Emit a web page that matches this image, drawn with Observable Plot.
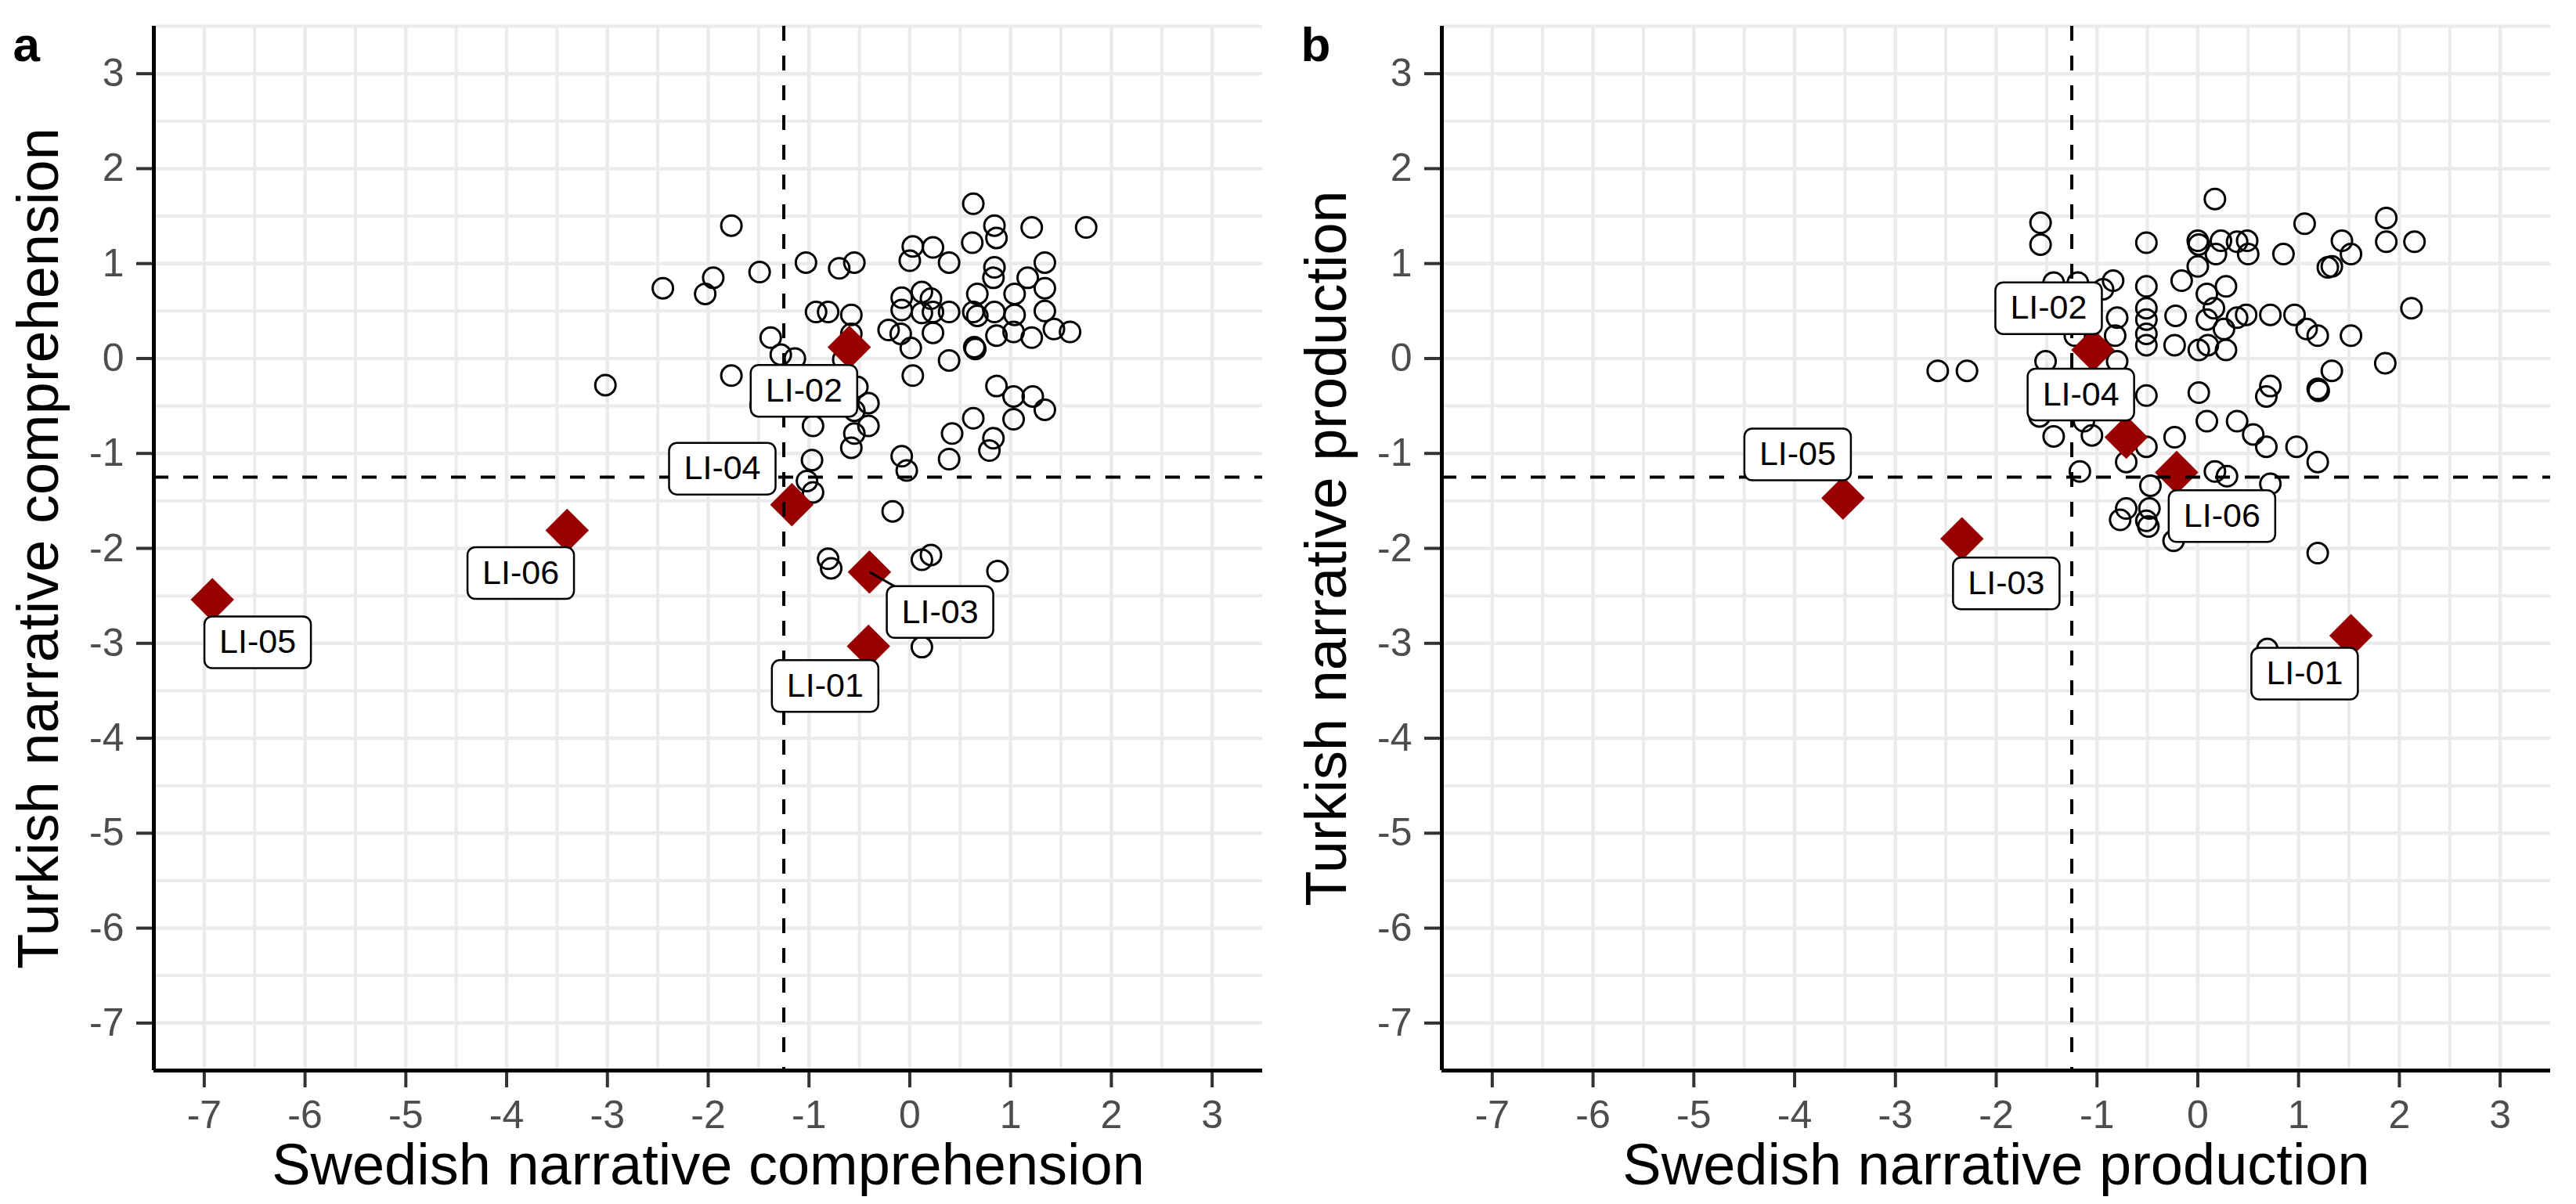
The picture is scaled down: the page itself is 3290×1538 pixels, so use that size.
<!DOCTYPE html>
<html>
<head>
<meta charset="utf-8">
<script src="https://cdn.jsdelivr.net/npm/d3@7"></script>
<script src="https://cdn.jsdelivr.net/npm/@observablehq/plot@0.6"></script>
<style>
html, body { margin: 0; padding: 0; background: #fff; }
#wrap { display: flex; width: 3290px; height: 1538px; }
</style>
</head>
<body>
<div id="wrap"></div>
<script>
const FONT = '"Liberation Sans", Arial, Helvetica, sans-serif';

// ---- scales / ticks ----
const xDomain = [-7.5, 3.5];
const yDomain = [-7.5, 3.5];
const majorTicks = [-7, -6, -5, -4, -3, -2, -1, 0, 1, 2, 3];
const minorTicksX = [-6.5, -5.5, -4.5, -3.5, -2.5, -1.5, -0.5, 0.5, 1.5, 2.5];
const minorTicksY = [-6.5, -5.5, -4.5, -3.5, -2.5, -1.5, -0.5, 0.5, 1.5, 2.5, 3.5];
const cutoff = -1.25;

// ---- panel a: comprehension (typical children) ----
const compSwedish = [0.63, -1.77, 0.84, 1.21, 1.75, 0.86, 0.62, 0.03, 0.23, 0.00,
  0.39, -1.03, -0.70, -0.55, 1.34, 0.84, 0.83, 1.17, 1.34, -1.49,
  -1.95, -2.45, -2.03, 0.67, 1.04, 0.12, -0.08, 0.21, -0.08, 0.12,
  0.23, 0.39, 0.63, 0.67, 0.84, 1.04, 1.34, -0.93, -0.81, -0.58,
  -0.21, -0.09, 0.23, 0.86, 1.03, 1.21, 1.43, 1.59, 0.01, 0.64,
  0.65, 0.39, -1.38, -1.28, -1.14, -0.58, -0.66, -1.77, 0.03, -3.02,
  0.86, 1.03, 1.22, 1.34, 0.63, 1.03, 0.42, 0.83, 0.79, 0.39,
  -0.08, -0.03, -0.41, -0.52, -0.55, -0.41, -0.55, -0.58, -0.96, -1.48,
  -0.97, -1.02, -0.96, -0.17, -0.81, -0.78, 0.12, 0.21, 0.87, 0.12];
const compTurkish = [1.63, 1.40, 1.40, 1.38, 1.38, 1.27, 1.22, 1.18, 1.17, 1.03,
  1.01, 1.01, 0.95, 1.01, 1.01, 0.96, 0.85, 0.85, 0.74, 0.91,
  0.85, 0.74, 0.68, 0.68, 0.68, 0.70, 0.64, 0.63, 0.51, 0.48,
  0.49, 0.49, 0.49, 0.45, 0.49, 0.46, 0.50, 0.49, 0.49, 0.46,
  0.30, 0.26, 0.27, 0.24, 0.28, 0.22, 0.31, 0.28, 0.11, 0.12,
  0.10, -0.02, 0.22, 0.04, 0.00, 0.26, -0.01, -0.18, -0.18, -0.28,
  -0.29, -0.40, -0.40, -0.54, -0.63, -0.64, -0.79, -0.84, -0.97, -1.06,
  -1.03, -1.18, -0.47, -0.30, -0.55, -0.71, -0.79, -0.94, -0.71, -0.49,
  -1.07, -1.29, -1.41, -1.61, -2.11, -2.21, -2.12, -2.07, -2.24, -3.04];

// ---- panel b: production (typical children) ----
const prodSwedish = [0.17, 1.87, 1.06, -1.56, -1.56, -0.51, 0.00, 0.01, 0.23, 0.39,
  0.49, 1.43, 1.87, 2.15, 0.18, 0.50, 0.85, 1.52, 1.29, 1.33,
  0.00, -0.84, -0.51, -0.16, 0.09, 0.28, -0.94, -0.51, -0.51, -0.51,
  -0.51, -0.22, -0.23, 0.09, 0.16, 0.39, 0.48, 0.26, 0.72, 0.96,
  1.08, 1.19, 1.52, 2.12, -0.80, -0.82, 0.01, 0.10, 0.28, 1.86,
  1.33, 1.19, 1.20, 0.72, 0.68, 0.01, -0.51, -2.58, -2.29, -1.51,
  -0.80, 0.09, 0.39, 0.55, 0.68, 0.98, 1.19, -0.23, -1.43, -1.05,
  -1.13, -1.57, -0.51, -0.71, -1.17, 0.17, 0.29, 0.72, -0.47, -0.71,
  -0.77, -0.48, -0.51, -0.49, -0.24, 1.19, 0.69, -1.43, -1.19, -1.22];
const prodTurkish = [1.68, 1.48, 1.42, 1.43, 1.20, 1.22, 1.24, 1.20, 1.24, 1.23,
  1.24, 1.24, 1.23, 1.23, 1.10, 1.10, 1.10, 1.10, 0.96, 0.97,
  0.97, 0.82, 0.76, 0.82, 0.68, 0.76, 0.73, 0.53, 0.41, 0.26,
  0.14, 0.45, 0.14, 0.41, 0.53, 0.43, 0.46, 0.31, 0.46, 0.46,
  0.31, 0.24, 0.24, 0.53, 0.43, 0.24, 0.09, 0.14, 0.09, -0.05,
  -0.13, -0.32, -0.34, -0.29, -0.40, -0.36, -0.39, -0.13, -0.13, -0.03,
  -0.03, -0.66, -0.66, -0.80, -0.93, -0.93, -1.09, -0.83, -0.82, -0.81,
  -0.66, -0.61, -0.93, -1.09, -1.19, -1.19, -1.24, -1.32, -1.34, -1.58,
  -1.70, -1.58, -1.71, -1.77, -1.92, -2.05, -3.06, 0.80, 0.80, 0.24];

// ---- children with language impairment (highlighted) ----
const caseIds = ["LI-01", "LI-02", "LI-03", "LI-04", "LI-05", "LI-06"];
const caseCompSwedish = [-0.41, -0.60, -0.40, -1.17, -6.92, -3.40];
const caseCompTurkish = [-3.03, 0.12, -2.25, -1.54, -2.54, -1.81];
const caseProdSwedish = [1.52, -1.04, -2.34, -0.71, -3.52, -0.21];
const caseProdTurkish = [-2.92, 0.09, -1.90, -0.83, -1.47, -1.20];
// label (repelled) positions, in data units
const labelCompX = [-0.84, -1.05, 0.30, -1.86, -6.47, -3.86];
const labelCompY = [-3.45, -0.34, -2.67, -1.16, -2.99, -2.26];
const labelProdX = [1.06, -1.48, -1.90, -1.16, -3.97, 0.24];
const labelProdY = [-3.32, 0.53, -2.37, -0.38, -1.01, -1.66];
const segmentComp = [false, false, true, false, false, false];
const segmentProd = [false, false, false, false, false, false];

// rounded label box symbol (pixel-sized)
const labelBox = {
  draw(ctx) {
    const w = 68, h = 33, r = 10;
    ctx.moveTo(-w + r, -h);
    ctx.lineTo(w - r, -h);
    ctx.arcTo(w, -h, w, -h + r, r);
    ctx.lineTo(w, h - r);
    ctx.arcTo(w, h, w - r, h, r);
    ctx.lineTo(-w + r, h);
    ctx.arcTo(-w, h, -w, h - r, r);
    ctx.lineTo(-w, -h + r);
    ctx.arcTo(-w, -h, -w + r, -h, r);
    ctx.closePath();
  }
};

function panel({letter, xTitle, yTitle, xs, ys, cx, cy, lx, ly, seg}) {
  const points = xs.map((x, i) => ({x, y: ys[i]}));
  const cases = caseIds.map((id, i) => ({id, x: cx[i], y: cy[i], lx: lx[i], ly: ly[i], seg: seg[i]}));
  const axisOpts = {ticks: majorTicks, tickSize: 22, tickPadding: 16, fontSize: 50,
    stroke: "#333333", strokeWidth: 4, fill: "#4d4d4d", label: null, tickFormat: d => String(d)};
  return Plot.plot({
    width: 1645, height: 1538,
    marginLeft: 196, marginRight: 33, marginTop: 33, marginBottom: 171,
    style: {fontFamily: FONT, background: "white", overflow: "visible"},
    x: {domain: xDomain},
    y: {domain: yDomain},
    marks: [
      Plot.ruleX(minorTicksX, {stroke: "#ebebeb", strokeWidth: 4}),
      Plot.ruleY(minorTicksY, {stroke: "#ebebeb", strokeWidth: 4}),
      Plot.ruleX(majorTicks, {stroke: "#ebebeb", strokeWidth: 4.5}),
      Plot.ruleY(majorTicks, {stroke: "#ebebeb", strokeWidth: 4.5}),
      Plot.axisX(axisOpts),
      Plot.axisY(axisOpts),
      Plot.dot(points, {x: "x", y: "y", r: 13, stroke: "black", strokeWidth: 3, fill: "none"}),
      Plot.dot(cases, {x: "x", y: "y", symbol: "diamond2", r: 25, fill: "#990000", stroke: "none"}),
      Plot.ruleX([cutoff], {stroke: "black", strokeWidth: 4, strokeDasharray: "19,19"}),
      Plot.ruleY([cutoff], {stroke: "black", strokeWidth: 4, strokeDasharray: "19,19"}),
      Plot.ruleX([xDomain[0]], {stroke: "black", strokeWidth: 5}),
      Plot.ruleY([yDomain[0]], {stroke: "black", strokeWidth: 5}),
      Plot.link(cases.filter(d => d.seg), {x1: "x", y1: "y", x2: "lx", y2: "ly", stroke: "black", strokeWidth: 3}),
      Plot.dot(cases, {x: "lx", y: "ly", symbol: labelBox, r: 10, fill: "white", stroke: "black", strokeWidth: 2.5}),
      Plot.text(cases, {x: "lx", y: "ly", text: "id", fontSize: 43, fill: "black"}),
      Plot.text([yTitle], {text: d => d, frameAnchor: "left", textAnchor: "middle", rotate: -90, dx: -123, lineAnchor: "bottom", fontSize: 74, fill: "black"}),
      Plot.text([xTitle], {text: d => d, frameAnchor: "bottom", textAnchor: "middle", dy: 145, lineAnchor: "bottom", fontSize: 74, fill: "black"}),
      Plot.text([letter], {text: d => d, frameAnchor: "top-left", dx: -180, dy: 44, lineAnchor: "bottom", textAnchor: "start", fontSize: 62, fontWeight: "bold", fill: "black"})
    ]
  });
}

const wrap = document.getElementById("wrap");
wrap.appendChild(panel({
  letter: "a",
  xTitle: "Swedish narrative comprehension",
  yTitle: "Turkish narrative comprehension",
  xs: compSwedish, ys: compTurkish,
  cx: caseCompSwedish, cy: caseCompTurkish,
  lx: labelCompX, ly: labelCompY, seg: segmentComp
}));
wrap.appendChild(panel({
  letter: "b",
  xTitle: "Swedish narrative production",
  yTitle: "Turkish narrative production",
  xs: prodSwedish, ys: prodTurkish,
  cx: caseProdSwedish, cy: caseProdTurkish,
  lx: labelProdX, ly: labelProdY, seg: segmentProd
}));
</script>
</body>
</html>
